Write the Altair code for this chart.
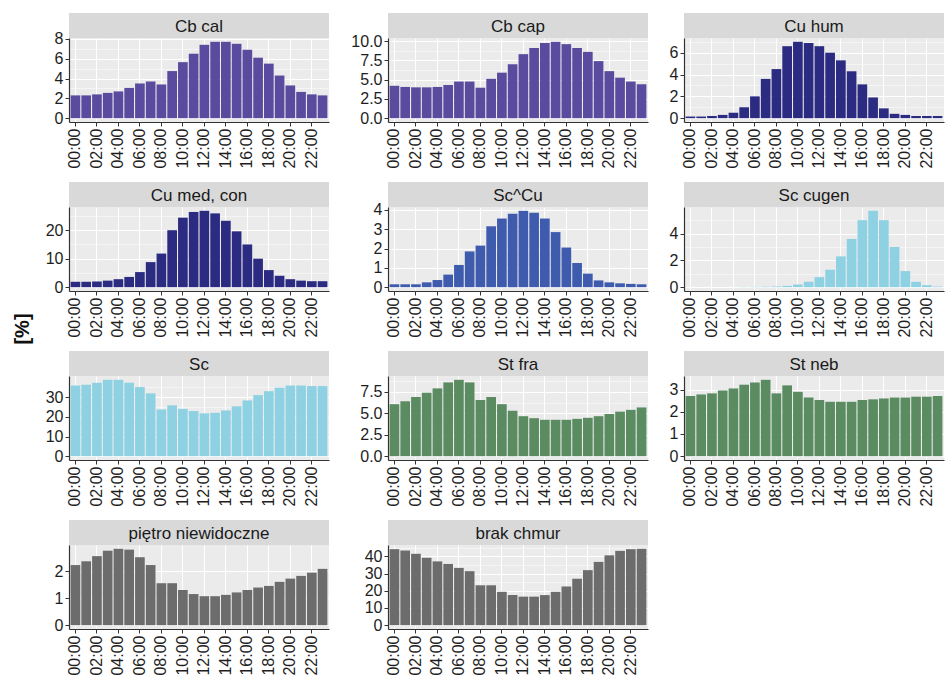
import json

import altair as alt
import pandas as pd

# Hour-of-day categories (x axis) and the hours that carry a label
HOURS = ["00:00", "01:00", "02:00", "03:00", "04:00", "05:00", "06:00", "07:00",
         "08:00", "09:00", "10:00", "11:00", "12:00", "13:00", "14:00", "15:00",
         "16:00", "17:00", "18:00", "19:00", "20:00", "21:00", "22:00", "23:00"]
LABELLED_HOURS = ["00:00", "02:00", "04:00", "06:00", "08:00", "10:00",
                  "12:00", "14:00", "16:00", "18:00", "20:00", "22:00"]

# Share of observations [%] per hour for each cloud genus / species
cb_cal = [2.3, 2.3, 2.4, 2.55, 2.7, 3.05, 3.5, 3.7, 3.4, 4.75, 5.65, 6.5,
          7.4, 7.7, 7.7, 7.5, 6.9, 6.1, 5.5, 4.3, 3.3, 2.65, 2.4, 2.3]
cb_cap = [4.2, 4.05, 4.0, 4.0, 4.05, 4.3, 4.75, 4.75, 3.95, 5.1, 5.9, 7.0,
          8.3, 9.1, 9.75, 9.9, 9.6, 9.1, 8.6, 7.4, 6.1, 5.25, 4.75, 4.4]
cu_hum = [0.15, 0.15, 0.2, 0.3, 0.5, 1.0, 2.0, 3.6, 4.5, 6.6, 7.0, 6.9,
          6.6, 6.0, 5.3, 4.3, 3.1, 1.9, 0.9, 0.4, 0.3, 0.2, 0.2, 0.2]
cu_med = [1.9, 1.9, 2.0, 2.3, 2.8, 3.6, 5.3, 8.8, 11.8, 20.0, 24.4, 26.4,
          26.8, 25.9, 23.3, 19.6, 15.0, 10.0, 6.0, 4.0, 2.8, 2.3, 2.1, 2.1]
sc_cu = [0.15, 0.15, 0.15, 0.25, 0.37, 0.65, 1.15, 1.85, 2.15, 3.15, 3.55, 3.8,
         3.95, 3.85, 3.55, 2.85, 2.05, 1.25, 0.7, 0.35, 0.25, 0.2, 0.17, 0.15]
sc_cugen = [0.0, 0.0, 0.0, 0.0, 0.0, 0.01, 0.02, 0.03, 0.05, 0.1, 0.2, 0.4,
            0.75, 1.3, 2.3, 3.6, 5.0, 5.7, 5.0, 3.0, 1.2, 0.4, 0.15, 0.05]
sc = [36.0, 36.4, 37.4, 38.9, 38.9, 37.4, 35.2, 32.0, 23.8, 25.9, 24.1, 23.0,
      21.8, 22.1, 23.3, 25.4, 28.4, 31.1, 33.1, 34.9, 36.0, 36.0, 35.7, 35.7]
st_fra = [6.06, 6.4, 6.9, 7.4, 7.9, 8.6, 8.9, 8.6, 6.55, 6.9, 6.06, 5.3,
          4.66, 4.43, 4.24, 4.24, 4.24, 4.35, 4.47, 4.66, 4.92, 5.19, 5.4, 5.68]
st_neb = [2.71, 2.78, 2.83, 2.96, 3.05, 3.22, 3.32, 3.44, 2.83, 3.19, 2.9, 2.64,
          2.53, 2.45, 2.45, 2.45, 2.53, 2.56, 2.6, 2.64, 2.64, 2.68, 2.68, 2.71]
pietro = [2.22, 2.36, 2.55, 2.75, 2.82, 2.79, 2.51, 2.22, 1.55, 1.55, 1.3, 1.15,
          1.07, 1.07, 1.12, 1.21, 1.3, 1.39, 1.45, 1.6, 1.72, 1.82, 1.94, 2.08]
brak = [44.2, 43.4, 41.5, 39.2, 37.1, 35.6, 33.3, 31.4, 23.2, 23.2, 19.4, 17.5,
        16.6, 16.6, 17.5, 19.4, 22.5, 27.0, 32.0, 36.8, 40.6, 43.2, 44.2, 44.4]

# y-axis tick labels of each panel
ticks_cb_cal = [0, 2, 4, 6, 8]
ticks_cb_cap = [0, 2.5, 5, 7.5, 10]
ticks_cu_hum = [0, 2, 4, 6]
ticks_cu_med = [0, 10, 20]
ticks_sc_cu = [0, 1, 2, 3, 4]
ticks_sc_cugen = [0, 2, 4]
ticks_sc = [0, 10, 20, 30]
ticks_st_fra = [0, 2.5, 5, 7.5]
ticks_st_neb = [0, 1, 2, 3]
ticks_pietro = [0, 1, 2]
ticks_brak = [0, 10, 20, 30, 40]

# Fill colour per group
PURPLE = "#5B4B9E"
NAVY = "#2C2B82"
BLUE = "#3E5BAE"
LIGHT_BLUE = "#8DD1E2"
GREEN = "#5B8B61"
GREY = "#6C6C6C"

FONT = "Liberation Sans"
W, H, STRIP = 260, 84, 25


def panel(name, values, ticks, color, fmt="d"):
    df = pd.DataFrame({"godzina": HOURS, "udzial": values})
    vmax = max(values)
    lo, hi = -0.05 * vmax, 1.05 * vmax
    step = ticks[1] - ticks[0]
    minor = [t + step / 2 for t in ticks if t + step / 2 <= hi]
    grid_values = sorted(ticks + minor)
    is_major = f"indexof({json.dumps(ticks)}, datum.value) >= 0"

    y_axis = alt.Axis(
        values=grid_values,
        format=fmt,
        title=None,
        labelExpr=f"{is_major} ? datum.label : ''",
        gridWidth={"condition": {"test": is_major, "value": 1.1}, "value": 0.5},
        tickOpacity={"condition": {"test": is_major, "value": 1}, "value": 0},
    )
    x_axis = alt.Axis(values=LABELLED_HOURS, labelAngle=270, title=None,
                      bandPosition=0.5, grid=True, gridWidth=1.1)

    bars = alt.Chart(df).mark_bar(color=color).encode(
        x=alt.X("godzina:N", sort=HOURS,
                scale=alt.Scale(domain=HOURS, paddingInner=0.1, paddingOuter=0.15),
                axis=x_axis),
        y=alt.Y("udzial:Q", scale=alt.Scale(domain=[lo, hi], nice=False, zero=False),
                axis=y_axis),
        y2=alt.datum(0),
    )

    head = alt.Chart(pd.DataFrame({"panel": [name]}))
    strip = head.mark_rect(color="#D9D9D9").encode(
        x=alt.value(0), x2=alt.value(W), y=alt.value(-STRIP), y2=alt.value(0)
    )
    strip_text = head.mark_text(font=FONT, fontSize=17, color="#1A1A1A").encode(
        x=alt.value(W / 2), y=alt.value(-STRIP / 2 + 1), text="panel:N"
    )
    return alt.layer(bars, strip, strip_text).properties(width=W, height=H)


col1 = alt.vconcat(
    panel("Cb cal", cb_cal, ticks_cb_cal, PURPLE),
    panel("Cu med, con", cu_med, ticks_cu_med, NAVY),
    panel("Sc", sc, ticks_sc, LIGHT_BLUE),
    panel("piętro niewidoczne", pietro, ticks_pietro, GREY),
    spacing=85, bounds="flush",
)
col2 = alt.vconcat(
    panel("Cb cap", cb_cap, ticks_cb_cap, PURPLE, ".1f"),
    panel("Sc^Cu", sc_cu, ticks_sc_cu, BLUE),
    panel("St fra", st_fra, ticks_st_fra, GREEN, ".1f"),
    panel("brak chmur", brak, ticks_brak, GREY),
    spacing=85, bounds="flush",
)
col3 = alt.vconcat(
    panel("Cu hum", cu_hum, ticks_cu_hum, NAVY),
    panel("Sc cugen", sc_cugen, ticks_sc_cugen, LIGHT_BLUE),
    panel("St neb", st_neb, ticks_st_neb, GREEN),
    spacing=85, bounds="flush",
)

chart = alt.hconcat(col1, col2, col3, spacing=21).properties(
    title=alt.TitleParams(text="[%]", orient="left", anchor="middle", fontSize=20,
                          fontWeight="bold", font=FONT, color="#111111", offset=12,
                          dx=15),
    padding={"left": 13, "top": 13, "right": 2, "bottom": 0},
).configure_view(
    stroke=None, fill="#EBEBEB"
).configure_axis(
    domainColor="#333333", domainWidth=1.2,
    tickColor="#333333", tickSize=4, tickWidth=1,
    labelColor="#1E1E1E", labelFont=FONT, labelFontSize=16, labelPadding=2,
    gridColor="#FFFFFF",
)

chart.save("out.html", embed_options={"renderer": "svg", "actions": False})
